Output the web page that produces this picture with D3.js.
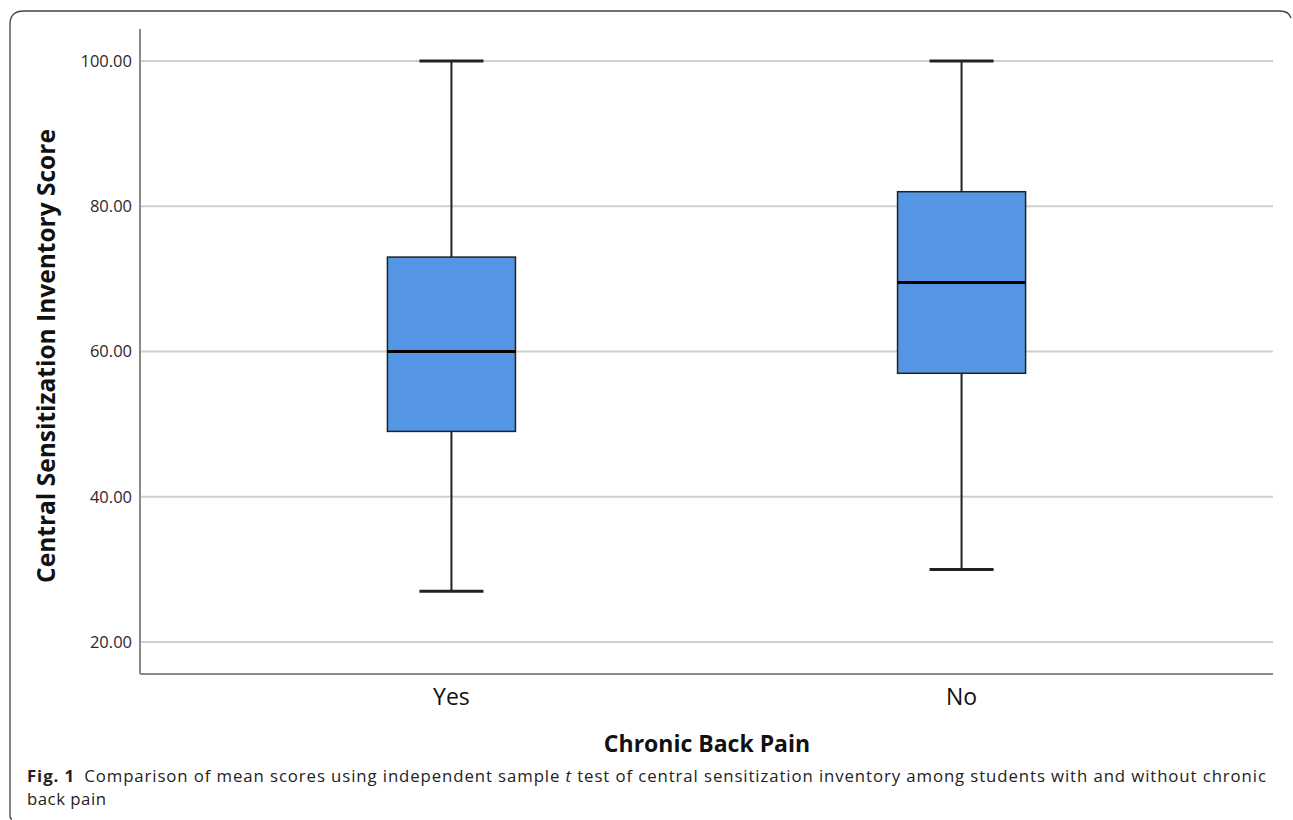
<!DOCTYPE html>
<html>
<head>
<meta charset="utf-8">
<script src="https://cdn.jsdelivr.net/npm/d3@7"></script>
<style>
  body { margin: 0; background: #fff; }
  svg { display: block; }
</style>
</head>
<body>
<svg id="chart" width="1293" height="820"></svg>
<script>
'use strict'

// groups on the x axis
const groups = ['Yes', 'No']
// box plot statistics
const mins = [27, 30]
const q1s = [49, 57]
const medians = [60, 69.5]
const q3s = [73, 82]
const maxs = [100, 100]

const yTicks = [20, 40, 60, 80, 100]

const svg = d3.select('#chart')

const margin = { top: 29, right: 20, bottom: 146, left: 140 }
const width = 1273 - margin.left
const height = 674 - margin.top

// frame around the figure (top + left with rounded corners)
svg.append('path')
    .attr('d', 'M12,819 Q10,819 10,816 L10,24 Q10,11 24,11 L1280,11 Q1289,11 1291,18')
    .attr('fill', 'none')
    .attr('stroke', '#444')
    .attr('stroke-width', 1.3)

const g = svg.append('g')
    .attr('transform', `translate(${margin.left},${margin.top})`)

const y = d3.scaleLinear().domain([15.6, 104.4]).range([height, 0])
const x = d3.scaleBand()
    .domain(groups)
    .range([0, width])
    .paddingInner(0.749)
    .paddingOuter(0.485)

// gridlines
g.append('g')
    .selectAll('line')
    .data(yTicks)
    .join('line')
    .attr('x1', 0)
    .attr('x2', width)
    .attr('y1', (d) => y(d))
    .attr('y2', (d) => y(d))
    .attr('stroke', '#cfcfcf')
    .attr('stroke-width', 2)

// y axis
const yAxis = g.append('g')
    .call(d3.axisLeft(y).tickValues(yTicks).tickSize(0).tickPadding(8).tickFormat(d3.format('.2f')))
yAxis.select('.domain').remove()
yAxis.selectAll('text')
    .attr('font-family', 'Open Sans, sans-serif')
    .attr('font-size', 16.5)
    .attr('fill', '#2a2a2a')

// x axis
const xAxis = g.append('g')
    .attr('transform', `translate(0,${height})`)
    .call(d3.axisBottom(x).tickSize(0))
xAxis.select('.domain').remove()
xAxis.selectAll('text')
    .attr('y', 31)
    .attr('dy', 0)
    .attr('font-family', 'Open Sans, sans-serif')
    .attr('font-size', 23)
    .attr('fill', '#111')

// axis lines
g.append('line')
    .attr('x1', 0).attr('x2', 0)
    .attr('y1', 0).attr('y2', height)
    .attr('stroke', '#8a8a8a').attr('stroke-width', 2)
g.append('line')
    .attr('x1', 0).attr('x2', width)
    .attr('y1', height).attr('y2', height)
    .attr('stroke', '#8a8a8a').attr('stroke-width', 2)

// boxes
const stats = groups.map((name, i) => ({
    name: name,
    min: mins[i],
    q1: q1s[i],
    median: medians[i],
    q3: q3s[i],
    max: maxs[i],
}))

const boxes = g.append('g')
    .selectAll('g')
    .data(stats)
    .join('g')
    .attr('transform', (d) => `translate(${x(d.name)},0)`)

const bw = x.bandwidth()

// whisker stems
boxes.append('line')
    .attr('x1', bw / 2).attr('x2', bw / 2)
    .attr('y1', (d) => y(d.max)).attr('y2', (d) => y(d.min))
    .attr('stroke', '#222').attr('stroke-width', 2)

// whisker caps
boxes.selectAll('.cap')
    .data((d) => [d.min, d.max])
    .join('line')
    .attr('class', 'cap')
    .attr('x1', bw / 4).attr('x2', (bw * 3) / 4)
    .attr('y1', (v) => y(v)).attr('y2', (v) => y(v))
    .attr('stroke', '#222').attr('stroke-width', 3)

// the box itself
boxes.append('rect')
    .attr('x', 0)
    .attr('width', bw)
    .attr('y', (d) => y(d.q3))
    .attr('height', (d) => y(d.q1) - y(d.q3))
    .attr('fill', '#5495e4')
    .attr('stroke', '#222')
    .attr('stroke-width', 1.5)

// median
boxes.append('line')
    .attr('x1', 0).attr('x2', bw)
    .attr('y1', (d) => y(d.median)).attr('y2', (d) => y(d.median))
    .attr('stroke', '#000').attr('stroke-width', 3)

// axis titles
svg.append('text')
    .attr('transform', `translate(55,356) rotate(-90)`)
    .attr('text-anchor', 'middle')
    .attr('font-family', 'Open Sans, sans-serif')
    .attr('font-weight', 'bold')
    .attr('font-size', 24.5)
    .attr('fill', '#111')
    .text('Central Sensitization Inventory Score')

svg.append('text')
    .attr('x', 707)
    .attr('y', 752)
    .attr('text-anchor', 'middle')
    .attr('font-family', 'Open Sans, sans-serif')
    .attr('font-weight', 'bold')
    .attr('font-size', 23)
    .attr('fill', '#111')
    .text('Chronic Back Pain')

// caption
const line1 = svg.append('text')
    .attr('x', 27)
    .attr('y', 782)
    .attr('font-family', 'Open Sans, sans-serif')
    .attr('font-size', 16.8)
    .attr('letter-spacing', 0.9)
    .attr('fill', '#222')
line1.append('tspan').attr('font-weight', 'bold').text('Fig. 1')
line1.append('tspan').text('\u2002Comparison of mean scores using independent sample ')
line1.append('tspan').attr('font-style', 'italic').text('t')
line1.append('tspan').text(' test of central sensitization inventory among students with and without chronic')

svg.append('text')
    .attr('x', 27)
    .attr('y', 805)
    .attr('font-family', 'Open Sans, sans-serif')
    .attr('font-size', 16.8)
    .attr('letter-spacing', 0.5)
    .attr('fill', '#222')
    .text('back pain')
</script>
</body>
</html>
